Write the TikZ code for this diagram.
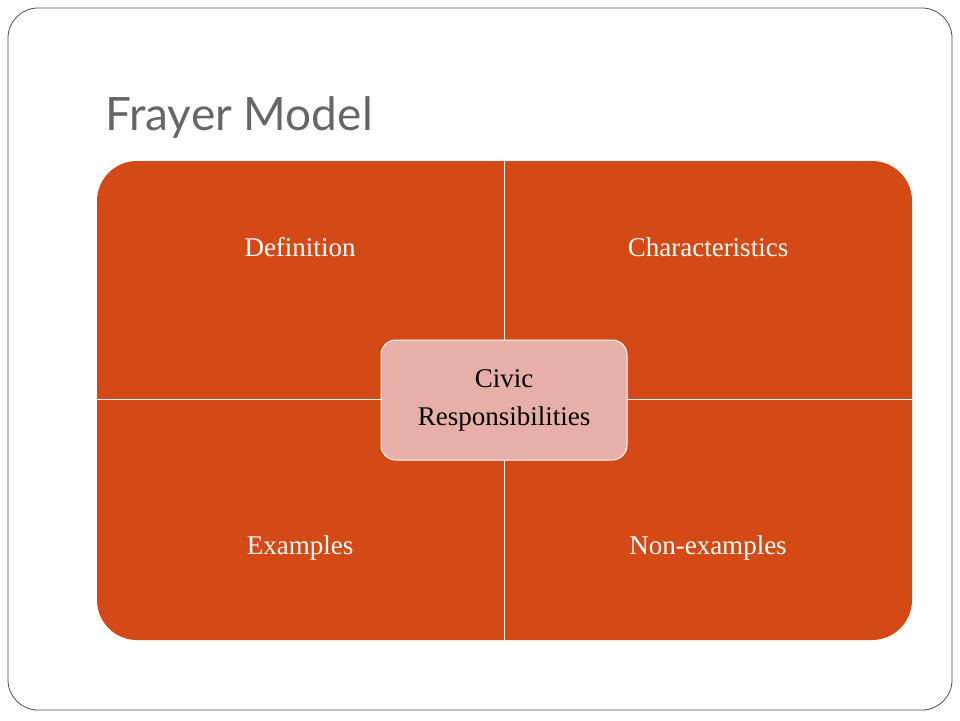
\documentclass[tikz,border=0pt]{standalone}
\usepackage{fontspec}
\setmainfont{Liberation Serif}
\newfontfamily\titlefont{Lato}
\definecolor{orng}{HTML}{D34A17}
\definecolor{pinkc}{HTML}{E6B0A8}
\definecolor{titleg}{HTML}{666666}
\begin{document}
\begin{tikzpicture}[x=1pt,y=-1pt,
  lab/.style={text=white,font=\fontsize{27}{32}\selectfont,anchor=center},
  quad/.style={fill=orng,draw=none}]
\useasboundingbox (0,0) rectangle (960,720);
\draw[draw=black!70,line width=0.8pt,rounded corners=30] (8,8) rectangle (952,710);
\node[anchor=base west,inner sep=0,text=titleg,font=\titlefont\fontsize{46}{50}\selectfont] (title) at (105,130) {Frayer Model};
\fill[orng,rounded corners=40] (97,161) rectangle (912,640);
\draw[white,line width=1pt] (504,161) -- (504,640);
\draw[white,line width=1pt] (97,399) -- (912,399);
\node[lab] (def) at (300,247) {Definition};
\node[lab] (char) at (708,247) {Characteristics};
\node[lab] (ex) at (300,548) {Examples};
\node[lab] (nonex) at (708,548) {Non-examples};
\node[draw=white,line width=1pt,fill=pinkc,rounded corners=15,minimum width=246,minimum height=120,align=center,font=\fontsize{27}{38}\selectfont] (center) at (504,400) {Civic\\Responsibilities};
\end{tikzpicture}
\end{document}
